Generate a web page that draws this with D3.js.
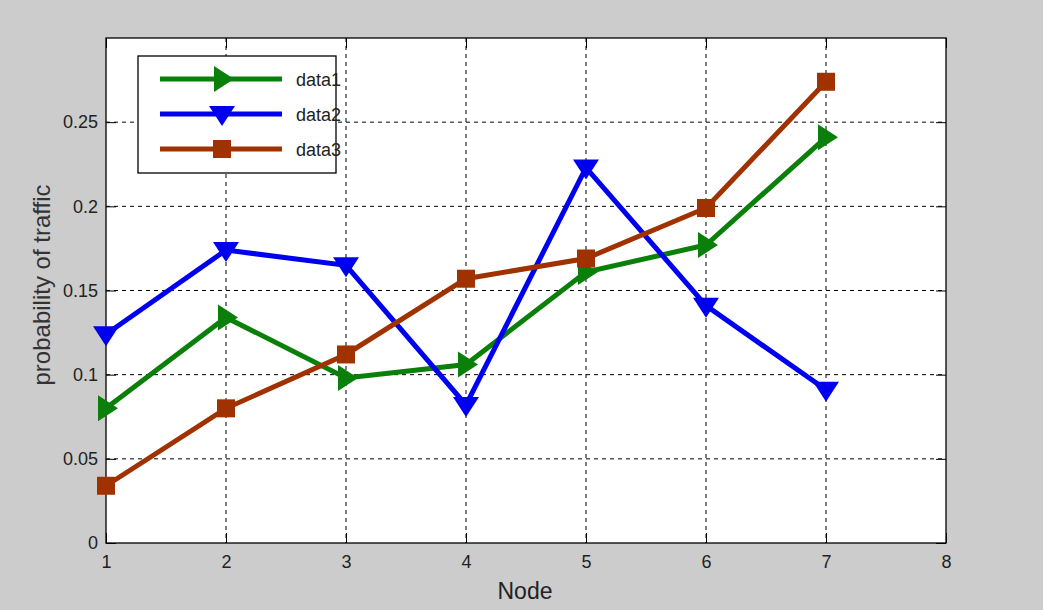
<!DOCTYPE html>
<html><head><meta charset="utf-8">
<script src="https://cdn.jsdelivr.net/npm/d3@7"></script>
<style>body{margin:0;background:#cccccc;}svg{display:block;}</style>
</head><body>
<svg id="c" width="1043" height="610"></svg>
<script>
const nodes = [1,2,3,4,5,6,7];
const data1 = [0.080,0.134,0.098,0.106,0.161,0.177,0.241];
const data2 = [0.124,0.174,0.165,0.082,0.223,0.141,0.091];
const data3 = [0.034,0.080,0.112,0.157,0.169,0.199,0.274];
const xTicks = [1,2,3,4,5,6,7,8];
const yTicks = [0,0.05,0.1,0.15,0.2,0.25];
const seriesNames = ["data1","data2","data3"];
const seriesColors = ["#0a800a","#0000f0","#a03200"];
const seriesMarkers = ["right","down","square"];

const svg = d3.select("#c");
const L=106,R=946,T=38,B=543;
svg.append("rect").attr("width",1043).attr("height",610).attr("fill","#cccccc");
svg.append("rect").attr("x",L).attr("y",T).attr("width",R-L).attr("height",B-T).attr("fill","#fff");
const x = d3.scaleLinear().domain([1,8]).range([L,R]);
const y = d3.scaleLinear().domain([0,0.3]).range([B,T]);
const font = "Arial, 'Liberation Sans', sans-serif";

// grid
const g = svg.append("g");
xTicks.slice(1,-1).forEach(t=>g.append("line").attr("x1",x(t)).attr("x2",x(t)).attr("y1",T).attr("y2",B)
  .attr("stroke","#000").attr("stroke-width",1).attr("stroke-dasharray","4,4"));
yTicks.slice(1).forEach(t=>g.append("line").attr("x1",L).attr("x2",R).attr("y1",y(t)).attr("y2",y(t))
  .attr("stroke","#000").attr("stroke-width",1).attr("stroke-dasharray","4,4"));

// axes
const ax = svg.append("g").attr("transform",`translate(0,${B})`).call(d3.axisBottom(x).tickValues(xTicks).tickSize(-10).tickPadding(18).tickFormat(d3.format("d")));
const ay = svg.append("g").attr("transform",`translate(${L},0)`).call(d3.axisLeft(y).tickValues(yTicks).tickSize(-10).tickPadding(8).tickFormat(d=>d===0?"0":String(d)));
const axT = svg.append("g").attr("transform",`translate(0,${T})`).call(d3.axisTop(x).tickValues(xTicks).tickSize(-10).tickFormat(""));
const ayR = svg.append("g").attr("transform",`translate(${R},0)`).call(d3.axisRight(y).tickValues(yTicks).tickSize(-10).tickFormat(""));
[ax,ay,axT,ayR].forEach(a=>{a.select(".domain").remove();a.selectAll("line").attr("stroke","#000");
  a.selectAll("text").attr("font-family",font).attr("font-size",18).attr("fill","#222");});
ax.selectAll("text").attr("dy","0.4em");
svg.append("rect").attr("x",L).attr("y",T).attr("width",R-L).attr("height",B-T).attr("fill","none").attr("stroke","#000").attr("stroke-width",1.3);

// labels
svg.append("text").attr("x",525).attr("y",599).attr("text-anchor","middle").attr("font-family",font).attr("font-size",23).attr("fill","#222").text("Node");
svg.append("text").attr("transform","translate(50,285) rotate(-90)").attr("text-anchor","middle").attr("font-family",font).attr("font-size",24).attr("fill","#333").text("probability of traffic");

function marker(sel,type,cx,cy,color){
  if(type==="square") sel.append("rect").attr("x",cx-9).attr("y",cy-9).attr("width",18).attr("height",18).attr("fill",color);
  else if(type==="right") sel.append("path").attr("d",`M${cx-8},${cy-13}L${cx+12},${cy}L${cx-8},${cy+13}Z`).attr("fill",color);
  else sel.append("path").attr("d",`M${cx-13},${cy-8}L${cx+13},${cy-8}L${cx},${cy+12}Z`).attr("fill",color);
}
const all=[data1,data2,data3];
const line=d3.line().x((d,i)=>x(nodes[i])).y(d=>y(d));
all.forEach((vals,k)=>{
  const gg=svg.append("g");
  gg.append("path").datum(vals).attr("d",line).attr("fill","none").attr("stroke",seriesColors[k]).attr("stroke-width",5).attr("stroke-linejoin","miter");
  vals.forEach((v,i)=>marker(gg,seriesMarkers[k],x(nodes[i]),y(v),seriesColors[k]));
});

// legend
const lg=svg.append("g");
lg.append("rect").attr("x",138).attr("y",56).attr("width",198).attr("height",117).attr("fill","#fff").attr("stroke","#000").attr("stroke-width",1.3);
seriesNames.forEach((n,k)=>{
  const yy=79+k*35;
  lg.append("line").attr("x1",160).attr("x2",282).attr("y1",yy).attr("y2",yy).attr("stroke",seriesColors[k]).attr("stroke-width",5);
  marker(lg,seriesMarkers[k],222,yy,seriesColors[k]);
  lg.append("text").attr("x",296).attr("y",yy+7).attr("font-family",font).attr("font-size",18).attr("fill","#222").text(n);
});
</script>
</body></html>
